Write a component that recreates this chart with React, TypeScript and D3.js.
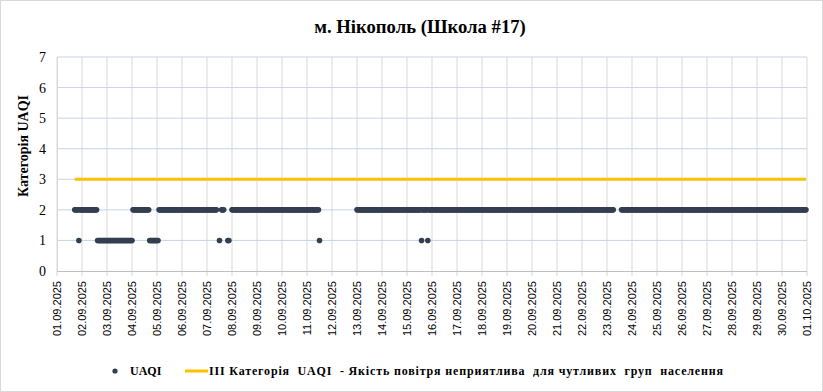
import React, { useEffect, useRef } from "react";
import * as d3 from "d3";

// hourly UAQI readings, stored as runs: [first hour, last hour, category]
// hour 0 = 01.09.2025 00:00
const uaqiRuns: [number, number, number][] = [
  [17, 20, 2], [21, 21, 1], [22, 38, 2], [39, 72, 1], [73, 88, 2],
  [89, 97, 1], [98, 153, 2], [156, 156, 1], [158, 160, 2], [164, 165, 1],
  [168, 251, 2], [252, 252, 1], [288, 349, 2], [350, 350, 1],
  [351, 355, 2], [356, 356, 1], [357, 534, 2], [542, 719, 2],
];
const thresholdValue = 3;
const thresholdHours = [17, 719];
const yTicks = [0, 1, 2, 3, 4, 5, 6, 7];
const title = "м. Нікополь (Школа #17)";
const yTitle = "Категорія UAQI";
const legendDots = "UAQI";
const legendLine = "ІІІ Категорія  UAQI  - Якість повітря неприятлива  для чутливих  груп  населення";

const W = 823;
const H = 392;
const M = { left: 57, right: 807, top: 57, bottom: 271 };

export default function App() {
  const ref = useRef<SVGSVGElement>(null);

  useEffect(() => {
    const svg = d3.select(ref.current);
    svg.selectAll("*").remove();

    const t0 = Date.UTC(2025, 8, 1);
    const hourDate = (h: number) => new Date(t0 + h * 3600 * 1000);

    const x = d3.scaleUtc().domain([new Date(t0), new Date(Date.UTC(2025, 9, 1))]).range([M.left, M.right]);
    const y = d3.scaleLinear().domain([0, 7]).range([M.bottom, M.top]);

    svg.append("rect")
      .attr("x", 0.5).attr("y", 0.5)
      .attr("width", W - 1).attr("height", H - 1)
      .attr("fill", "#fff").attr("stroke", "#d9d9d9");

    // vertical gridlines per day
    const days = d3.utcDay.range(new Date(t0), new Date(Date.UTC(2025, 9, 1, 1)));
    svg.append("g").selectAll("line").data(days).enter().append("line")
      .attr("x1", d => x(d)).attr("x2", d => x(d))
      .attr("y1", M.top).attr("y2", M.bottom + 5)
      .style("stroke", "#d9d9d9");

    // horizontal gridlines
    svg.append("g").selectAll("line").data(yTicks.slice(1)).enter().append("line")
      .attr("x1", M.left).attr("x2", M.right)
      .attr("y1", d => y(d)).attr("y2", d => y(d))
      .style("stroke", "#c6d4ea");

    svg.append("line")
      .attr("x1", M.left).attr("x2", M.right)
      .attr("y1", M.bottom + 0.5).attr("y2", M.bottom + 0.5)
      .style("stroke", "#bfbfbf");
    svg.append("line")
      .attr("x1", M.left + 0.5).attr("x2", M.left + 0.5)
      .attr("y1", M.top).attr("y2", M.bottom)
      .style("stroke", "#d9d9d9");

    // y ticks
    svg.append("g").selectAll("text").data(yTicks).enter().append("text")
      .attr("x", 46).attr("y", d => y(d) + 5)
      .attr("text-anchor", "end")
      .style("font-family", "Liberation Serif").style("font-size", "14px")
      .text(d => d);

    // x ticks
    const fmt = d3.utcFormat("%d.%m.%Y");
    svg.append("g").selectAll("text").data(days).enter().append("text")
      .attr("transform", d => `translate(${x(d) + 4},${M.bottom + 10}) rotate(-90)`)
      .attr("text-anchor", "end")
      .style("font-family", "Liberation Sans").style("font-size", "11px")
      .text(d => fmt(d));

    // threshold line
    const line = d3.line<number>().x(h => x(hourDate(h))).y(() => y(thresholdValue));
    svg.append("path")
      .attr("d", line(thresholdHours))
      .attr("fill", "none").attr("stroke", "#ffc000").attr("stroke-width", 3);

    // UAQI points
    const points: { h: number; v: number }[] = [];
    uaqiRuns.forEach(([a, b, v]) => {
      for (let h = a; h <= b; h++) points.push({ h, v });
    });
    svg.append("g").selectAll("circle").data(points).enter().append("circle")
      .attr("cx", d => x(hourDate(d.h))).attr("cy", d => y(d.v))
      .attr("r", 2.8).style("fill", "#333f50");

    // titles
    svg.append("text")
      .attr("x", 420).attr("y", 33).attr("text-anchor", "middle")
      .style("font-family", "Liberation Serif").style("font-weight", "bold").style("font-size", "18.7px")
      .text(title);
    svg.append("text")
      .attr("transform", `translate(28,146) rotate(-90)`)
      .attr("text-anchor", "middle")
      .style("font-family", "Liberation Serif").style("font-weight", "bold").style("font-size", "14px")
      .text(yTitle);

    // legend
    const lg = svg.append("g").style("font-family", "Liberation Serif").style("font-weight", "bold").style("font-size", "12px");
    lg.append("circle").attr("cx", 115).attr("cy", 371).attr("r", 2.6).style("fill", "#333f50");
    lg.append("text").attr("x", 130).attr("y", 375).text(legendDots);
    lg.append("line").attr("x1", 185).attr("x2", 208).attr("y1", 371).attr("y2", 371)
      .attr("stroke", "#ffc000").attr("stroke-width", 3);
    lg.append("text").attr("x", 209).attr("y", 375)
      .attr("textLength", 514).attr("lengthAdjust", "spacing")
      .style("white-space", "pre")
      .text(legendLine);
  }, []);

  return (
    <div style={{ position: "absolute", left: 0, top: 0 }}>
      <svg ref={ref} width={W} height={H}></svg>
    </div>
  );
}
